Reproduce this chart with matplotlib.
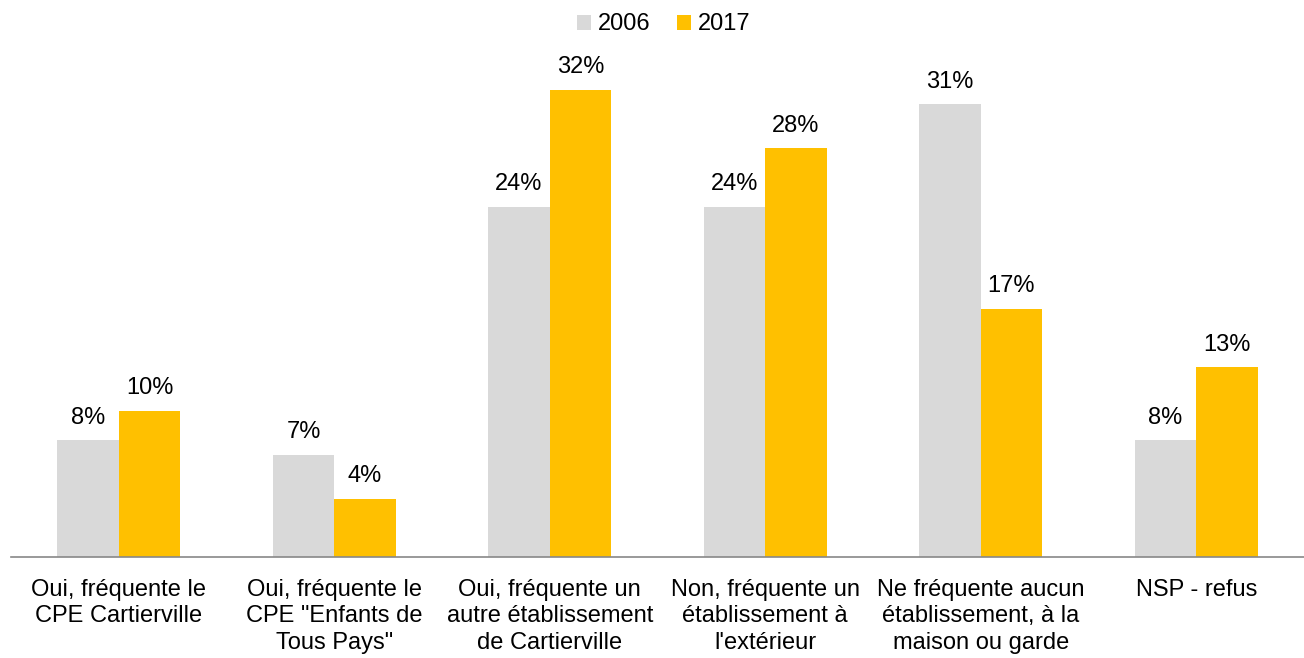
import numpy as np
import matplotlib.pyplot as plt

plt.rcParams['font.family'] = ['Liberation Sans', 'DejaVu Sans']

# -----------------------------
# Data
# -----------------------------
categories = [
    "Oui, fréquente le\nCPE Cartierville",
    "Oui, fréquente le\nCPE \"Enfants de\nTous Pays\"",
    "Oui, fréquente un\nautre établissement\nde Cartierville",
    "Non, fréquente un\nétablissement à\nl'extérieur",
    "Ne fréquente aucun\nétablissement, à la\nmaison ou garde",
    "NSP - refus",
]
values_2006 = [8, 7, 24, 24, 31, 8]
values_2017 = [10, 4, 32, 28, 17, 13]
series_names = ["2006", "2017"]

GRAY = "#D9D9D9"
GOLD = "#FFC000"
FS = 17

fig = plt.figure(figsize=(13.04, 6.58), dpi=100)
ax = fig.add_axes([11 / 1304, 101 / 658, 1 - 11 / 1304, 511 / 658])

x = np.arange(len(categories))
w = 0.285
b1 = ax.bar(x - w / 2, values_2006, w, color=GRAY, label=series_names[0])
b2 = ax.bar(x + w / 2, values_2017, w, color=GOLD, label=series_names[1])

for bars in (b1, b2):
    for bar in bars:
        h = bar.get_height()
        ax.text(bar.get_x() + bar.get_width() / 2, h + 0.8, f"{h:g}%",
                ha="center", va="bottom", fontsize=FS)

ax.set_xlim(-0.5, len(categories) - 0.5)
ax.set_ylim(0, 35)
ax.set_xticks(x)
ax.set_xticklabels(categories, fontsize=FS, linespacing=1.25, va="top")
ax.tick_params(axis="x", length=0, pad=16)
ax.set_yticks([])
for side in ["top", "right", "left"]:
    ax.spines[side].set_visible(False)
ax.spines["bottom"].set_color("#888888")
ax.spines["bottom"].set_linewidth(1.2)

fig.legend(handles=[b1, b2], labels=series_names, loc="upper center",
           bbox_to_anchor=(0.509, 1.012), ncol=2, frameon=False, fontsize=FS,
           handlelength=0.6, handleheight=0.6, handletextpad=0.3,
           columnspacing=1.1)

fig.savefig("out.png", dpi=100)
